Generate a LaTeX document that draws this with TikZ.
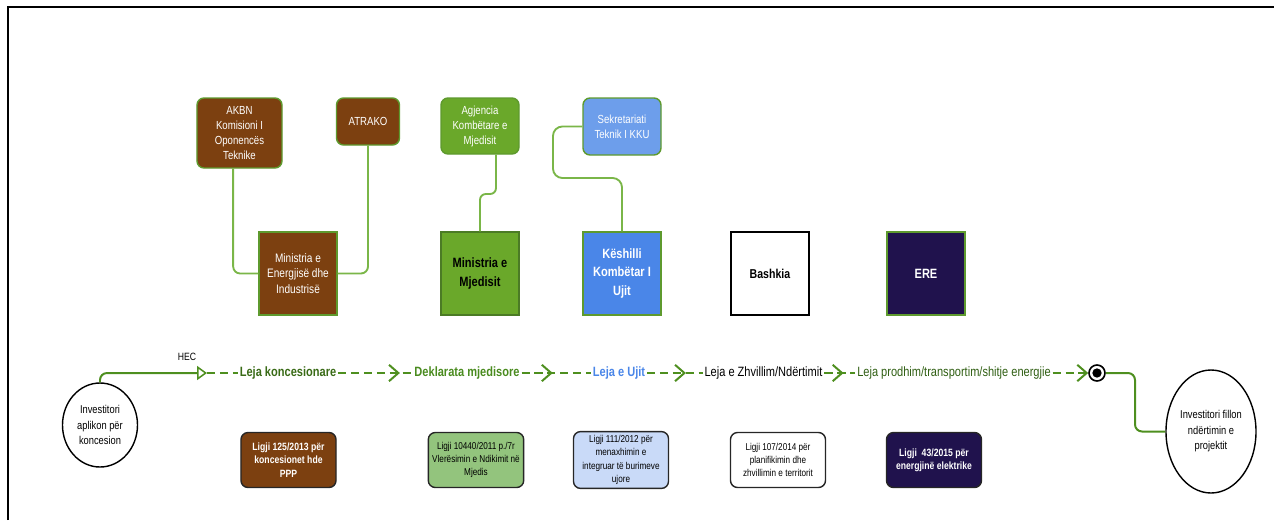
\documentclass[tikz,border=0pt]{standalone}
\usepackage{fontspec}
\setmainfont{Liberation Sans}[FakeStretch=0.82]
\usetikzlibrary{arrows.meta,decorations.markings,shapes.geometric}

\definecolor{kaf}{HTML}{7C4010}
\definecolor{edgegreen}{HTML}{5E9A2E}
\definecolor{linkgreen}{HTML}{7AB648}
\definecolor{flowgreen}{HTML}{4E8F1F}
\definecolor{agjgreen}{HTML}{6AA82A}
\definecolor{sekblue}{HTML}{6D9EEB}
\definecolor{kkublue}{HTML}{4A86E8}
\definecolor{erenavy}{HTML}{20124D}
\definecolor{lawgreen}{HTML}{93C47D}
\definecolor{lawblue}{HTML}{C9DAF8}
\definecolor{txtgreen}{HTML}{3A6B17}
\definecolor{txtgreenb}{HTML}{4A8B1F}
\definecolor{txtgreenc}{HTML}{2F5E12}

\begin{document}
\begin{tikzpicture}[x=0.03cm,y=-0.03cm,
  topbox/.style={draw=edgegreen, line width=1.2pt, rounded corners=6pt, text=white, align=center,
    font=\fontsize{10}{12.8}\selectfont, inner sep=1pt},
  instbox/.style={draw=edgegreen, line width=1.2pt, minimum width=2.34cm, minimum height=2.49cm,
    align=center, font=\bfseries\fontsize{11.5}{15.5}\selectfont},
  lawbox/.style={draw=black!85, line width=1.2pt, rounded corners=6pt, minimum width=2.85cm,
    minimum height=1.65cm, align=center, font=\fontsize{8.5}{11.3}\selectfont},
  flowtext/.style={font=\fontsize{11.5}{13}\selectfont, inner sep=1.5pt},
  person/.style={ellipse, draw, line width=1.2pt, align=center, inner sep=0pt,
    font=\fontsize{9.7}{13.2}\selectfont},
  link/.style={draw=linkgreen, line width=1.6pt, rounded corners=6pt},
  flowsolid/.style={draw=flowgreen, line width=1.7pt, rounded corners=6pt},
  flow/.style={draw=flowgreen, line width=1.7pt, dash pattern=on 7pt off 4pt},
  chev at/.style={postaction={decorate}, decoration={markings,
    mark=at position #1 with {\arrow[flowgreen, line width=1.7pt]{Straight Barb[length=8pt,width=14pt]}}}}
]
  \useasboundingbox (0,0) rectangle (1274,520);
  % frame
  \draw[line width=1.5pt] (8,520) -- (8,7) -- (1274,7);

  % institutions
  \node[topbox, fill=kaf, minimum width=2.55cm, minimum height=2.1cm] (akbn) at (239.5,133)
    {AKBN\\Komisioni I\\Oponencës\\Teknike};
  \node[topbox, fill=kaf, minimum width=1.89cm, minimum height=1.41cm] (atrako) at (368,121.5) {ATRAKO};
  \node[topbox, fill=agjgreen, minimum width=2.34cm, minimum height=1.68cm] (akm) at (480,126)
    {Agjencia\\Kombëtare e\\Mjedisit};
  \node[topbox, fill=sekblue, minimum width=2.34cm, minimum height=1.71cm] (stkku) at (622,126.5)
    {Sekretariati\\Teknik I KKU};

  \node[instbox, fill=kaf, text=white, font=\fontsize{10.5}{13.4}\selectfont] (mei) at (298,273.5)
    {Ministria e\\Energjisë dhe\\Industrisë};
  \node[instbox, fill=agjgreen, draw=edgegreen!80!black] (mm) at (480,273.5) {Ministria e\\Mjedisit};
  \node[instbox, fill=kkublue, text=white] (kku) at (622,273.5) {Këshilli\\Kombëtar I\\Ujit};
  \node[instbox, fill=white, draw=black, font=\bfseries\fontsize{11}{13}\selectfont] (bashkia) at (770,273.5) {Bashkia};
  \node[instbox, fill=erenavy, text=white] (ere) at (926,273.5) {ERE};

  \coordinate (akmbend) at (496,194);
  \coordinate (skbend) at (553,178);
  \draw[link] ([xshift=-0.19cm]akbn.south) |- (mei.west);
  \draw[link] (atrako.south) |- (mei.east);
  \draw[link, rounded corners=5pt] ([xshift=0.48cm]akm.south) |- (mm.north |- akmbend) -- (mm.north);
  \draw[link, rounded corners=8pt] (stkku.west) -| (skbend) -| (kku.north);

  % flow of permits
  \node[person, minimum width=2.25cm, minimum height=2.52cm] (start) at (100,425)
    {Investitori\\aplikon për\\koncesion};
  \node[person, minimum width=2.7cm, minimum height=3.69cm] (fin) at (1211,431.5)
    {Investitori fillon\\ndërtimin e\\projektit};

  \coordinate (hectip) at (207,373);
  \node[font=\fontsize{9}{10}\selectfont] (hec) at (187,357) {HEC};
  \node[flowtext, text=txtgreen, font=\bfseries\fontsize{11.5}{13}\selectfont] (leja1) at (288,373) {Leja koncesionare};
  \node[flowtext, text=txtgreenb, font=\bfseries\fontsize{11.5}{13}\selectfont] (dekl) at (467,373) {Deklarata mjedisore};
  \node[flowtext, text=kkublue, font=\bfseries\fontsize{11.5}{13}\selectfont] (ujit) at (619,373) {Leja e Ujit};
  \node[flowtext] (zhv) at (763.5,373) {Leja e Zhvillim/Ndërtimit};
  \node[flowtext, text=txtgreenc] (prod) at (954,373) {Leja prodhim/transportim/shitje energjie};
  \node[circle, draw, line width=1.4pt, minimum size=0.48cm, inner sep=0pt,
    path picture={\fill (path picture bounding box.center) circle (0.14cm);}] (endpt) at (1097,373) {};
  \coordinate (bendR) at (1135,373);

  \draw[flowsolid, -{Triangle[open, length=8.5pt, width=12pt, line width=1.3pt]}] (start.north) |- (hectip);
  \draw[flow] (hectip) -- (leja1);
  \draw[flow, chev at=0.83] (leja1) -- (dekl);
  \draw[flow, chev at=0.45] (dekl) -- (ujit);
  \draw[flow, chev at=0.7] (ujit) -- (zhv);
  \draw[flow, chev at=0.62] (zhv) -- (prod);
  \draw[flow, -{Straight Barb[length=8pt,width=14pt,line width=1.7pt]}] (prod) -- (endpt);
  \draw[flowsolid] (endpt) -- (bendR) |- (fin.west);

  % laws
  \node[lawbox, fill=kaf, text=white, font=\bfseries\fontsize{9}{11.3}\selectfont] (l1) at (288.5,460)
    {Ligji 125/2013 për\\koncesionet hde\\PPP};
  \node[lawbox, fill=lawgreen] (l2) at (476,460) {Ligji 10440/2011 p./7r\\Vlerësimin e Ndikimit në\\Mjedis};
  \node[lawbox, fill=lawblue] (l3) at (621,460) {Ligji 111/2012 për\\menaxhimin e\\integruar të burimeve\\ujore};
  \node[lawbox, fill=white] (l4) at (778,460) {Ligji 107/2014 për\\planifikimin dhe\\zhvillimin e territorit};
  \node[lawbox, fill=erenavy, text=white, font=\bfseries\fontsize{9}{11.3}\selectfont] (l5) at (934,460)
    {Ligji\ \ 43/2015 për\\energjinë elektrike};
\end{tikzpicture}
\end{document}
